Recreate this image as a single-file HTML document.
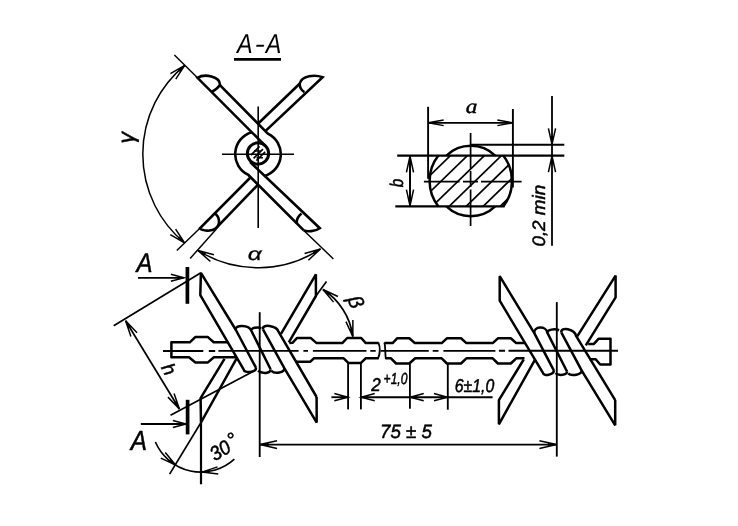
<!DOCTYPE html>
<html lang="en"><head><meta charset="utf-8"><title>A-A</title>
<style>html,body{margin:0;padding:0;background:#fff}svg{display:block;will-change:transform}text{text-rendering:geometricPrecision}</style></head>
<body>
<svg width="738" height="526" viewBox="0 0 738 526" fill="none" stroke="#000" stroke-linecap="butt" stroke-linejoin="round" font-family="'Liberation Sans', 'DejaVu Sans', sans-serif">
<rect width="738" height="526" fill="#fff" stroke="none"/>
<g>
<!-- section A-A -->
<line x1="258.2" y1="106.5" x2="258.2" y2="228" stroke-width="1.6"/>
<line x1="222" y1="154.2" x2="294" y2="154.2" stroke-width="1.6"/>
<circle cx="258" cy="153.5" r="10.65" stroke-width="3"/>
<line x1="250.9" y1="155.1" x2="259.6" y2="146.4" stroke-width="1.6"/>
<line x1="253.58" y1="158.42" x2="262.92" y2="149.08" stroke-width="1.6"/>
<line x1="256.4" y1="160.6" x2="265.1" y2="151.9" stroke-width="1.6"/>
<line x1="254" y1="151" x2="260.5" y2="151" stroke-width="1.45"/>
<line x1="256.5" y1="157.8" x2="263" y2="157.8" stroke-width="1.45"/>
<path d="M219.9 85.1 L267.84 133.63 A22.8 22.8 0 0 1 264.23 176.13" stroke-width="2.6"/>
<path d="M265.85 146.35 L197.5 77.8 C204.3 73.6 220.4 76.0 219.9 85.1 Q215.5 90.5 211.8 91.5" stroke-width="2.6" stroke-linejoin="miter" stroke-miterlimit="4"/>
<path d="M258 184.61 L215.6 228.6" stroke-width="2.6"/>
<path d="M250.65 177.25 L199.9 228.3 C202.1 231.1 211.8 231.7 215.6 228.6 C220.9 224.2 219.8 216.8 214.1 212.8" stroke-width="2.6" stroke-linejoin="miter" stroke-miterlimit="4"/>
<path d="M299.6 83.8 L258 123.79" stroke-width="2.6"/>
<path d="M265.35 131.15 L322.6 77.3 C315.2 74.6 301.8 75.2 299.6 83.8 Q299.8 89.5 304.4 92.1" stroke-width="2.6" stroke-linejoin="miter" stroke-miterlimit="4"/>
<path d="M251.77 132.27 A22.8 22.8 0 0 0 248.16 174.77 L303.8 230.4" stroke-width="2.6"/>
<path d="M301.5 213.4 Q295.6 218.5 297 223.7 M303.8 230.4 C307.2 231.9 315.2 231.5 319.8 228.2 L250.15 162.05" stroke-width="2.6" stroke-linejoin="miter" stroke-miterlimit="4"/>
<line x1="174.4" y1="55" x2="197.5" y2="77.8" stroke-width="1.45"/>
<line x1="199.9" y1="228.3" x2="176.8" y2="250.6" stroke-width="1.45"/>
<path d="M184.57 242.96 A115.2 115.2 0 0 1 184.72 65.31" stroke-width="1.5"/>
<path d="M175.74 79.15 L184.72 65.31 L170.43 73.56" stroke-width="1.5" stroke-linejoin="miter"/>
<path d="M184.72 65.31 L179.91 72.01 L177.78 69.77Z" fill="#000" stroke="none"/>
<path d="M170.29 234.69 L184.57 242.96 L175.61 229.11" stroke-width="1.5" stroke-linejoin="miter"/>
<path d="M184.57 242.96 L177.63 238.49 L179.77 236.26Z" fill="#000" stroke="none"/>
<text fill="#000" x="134.2" y="143.6" font-size="23" transform="rotate(-90 134.2 143.6)" stroke="#000" stroke-width="0.5" stroke-linejoin="round" font-style="italic">γ</text>
<line x1="216.4" y1="228.9" x2="190.2" y2="258.4" stroke-width="1.45"/>
<line x1="303.8" y1="230.4" x2="333.4" y2="258.9" stroke-width="1.45"/>
<path d="M320.48 248.96 A113.5 113.5 0 0 1 198.02 250.56" stroke-width="1.5"/>
<path d="M214 254.66 L198.02 250.56 L210.4 261.47" stroke-width="1.5" stroke-linejoin="miter"/>
<path d="M198.02 250.56 L205.91 252.98 L204.46 255.72Z" fill="#000" stroke="none"/>
<path d="M308.39 260.19 L320.48 248.96 L304.61 253.48" stroke-width="1.5" stroke-linejoin="miter"/>
<path d="M320.48 248.96 L314.18 254.28 L312.66 251.59Z" fill="#000" stroke="none"/>
<text fill="#000" x="247.8" y="259.8" font-size="18" textLength="14" lengthAdjust="spacingAndGlyphs" font-style="italic" stroke="#000" stroke-width="0.25">α</text>
<text fill="#000" y="53.4" font-size="27.3" font-style="italic" stroke="none"><tspan x="236.9" textLength="15.6" lengthAdjust="spacingAndGlyphs">A</tspan><tspan x="254.4" dy="-0.7" textLength="10.4" lengthAdjust="spacingAndGlyphs">-</tspan><tspan x="265.7" dy="0.7" textLength="15.6" lengthAdjust="spacingAndGlyphs">A</tspan></text>
<line x1="234" y1="59.3" x2="281" y2="59.3" stroke-width="2.8"/>
<!-- cross-section -->
<clipPath id="cs"><path d="M438.36 155.6 A41.2 41.2 0 0 0 438.36 206.4 L503.24 206.4 A41.2 41.2 0 0 0 503.24 155.6Z"/></clipPath>
<g clip-path="url(#cs)">
<line x1="367.2" y1="236.4" x2="470.2" y2="136.4" stroke-width="1.7"/>
<line x1="384.2" y1="236.4" x2="487.2" y2="136.4" stroke-width="1.7"/>
<line x1="401.2" y1="236.4" x2="504.2" y2="136.4" stroke-width="1.7"/>
<line x1="418.2" y1="236.4" x2="521.2" y2="136.4" stroke-width="1.7"/>
<line x1="435.2" y1="236.4" x2="538.2" y2="136.4" stroke-width="1.7"/>
<line x1="452.2" y1="236.4" x2="555.2" y2="136.4" stroke-width="1.7"/>
<line x1="469.2" y1="236.4" x2="572.2" y2="136.4" stroke-width="1.7"/>
</g>
<path d="M438.36 155.6 A41.2 41.2 0 0 0 438.36 206.4" stroke-width="2.5"/>
<path d="M503.24 155.6 A41.2 41.2 0 0 1 503.24 206.4" stroke-width="2.5"/>
<path d="M446.43 155.6 A35.2 35.2 0 0 1 495.17 155.6" stroke-width="2.5"/>
<path d="M446.43 206.4 A35.2 35.2 0 0 0 495.17 206.4" stroke-width="2.5"/>
<line x1="397.2" y1="155.6" x2="564.3" y2="155.6" stroke-width="2.3"/>
<line x1="395.3" y1="206.4" x2="504.5" y2="206.4" stroke-width="2.3"/>
<line x1="470.2" y1="144.8" x2="564.3" y2="144.8" stroke-width="1.9"/>
<path d="M423.9 181.6H459.5M463 181.6H478M481 181.6H521.6" stroke-width="1.7"/>
<path d="M470.6 132.9V168.5M470.6 171V187M470.6 189.5V226" stroke-width="1.7"/>
<line x1="428.1" y1="106.8" x2="428.1" y2="178.8" stroke-width="1.9"/>
<line x1="512.9" y1="109" x2="512.9" y2="187.5" stroke-width="1.9"/>
<line x1="428.1" y1="122.8" x2="512.9" y2="122.8" stroke-width="1.7"/>
<path d="M443.64 119.98 L428.4 122.8 L443.64 125.62" stroke-width="1.5" stroke-linejoin="miter"/>
<path d="M428.4 122.8 L436.07 121.67 L436.07 123.93Z" fill="#000" stroke="none"/>
<path d="M497.36 125.62 L512.6 122.8 L497.36 119.98" stroke-width="1.5" stroke-linejoin="miter"/>
<path d="M512.6 122.8 L504.93 123.93 L504.93 121.67Z" fill="#000" stroke="none"/>
<text fill="#000" x="465.8" y="112.8" font-size="20" textLength="11.6" lengthAdjust="spacingAndGlyphs" font-style="italic" font-family="'Liberation Serif', serif" stroke="#000" stroke-width="0.45">a</text>
<line x1="410" y1="155.6" x2="410" y2="206.4" stroke-width="2"/>
<path d="M413.57 172.31 L410 156.2 L406.43 172.31" stroke-width="1.5" stroke-linejoin="miter"/>
<path d="M410 156.2 L411.43 164.32 L408.57 164.32Z" fill="#000" stroke="none"/>
<path d="M406.43 189.69 L410 205.8 L413.57 189.69" stroke-width="1.5" stroke-linejoin="miter"/>
<path d="M410 205.8 L408.57 197.68 L411.43 197.68Z" fill="#000" stroke="none"/>
<text fill="#000" x="402.8" y="187.2" font-size="18.5" transform="rotate(-90 402.8 187.2)" textLength="8.4" lengthAdjust="spacingAndGlyphs" stroke="#000" stroke-width="0.5" stroke-linejoin="round" font-style="italic">b</text>
<line x1="552" y1="96" x2="552" y2="245.7" stroke-width="1.8"/>
<path d="M548.43 128.29 L552 144.4 L555.57 128.29" stroke-width="1.5" stroke-linejoin="miter"/>
<path d="M552 144.4 L550.57 136.28 L553.43 136.28Z" fill="#000" stroke="none"/>
<path d="M555.57 172.11 L552 156 L548.43 172.11" stroke-width="1.5" stroke-linejoin="miter"/>
<path d="M552 156 L553.43 164.12 L550.57 164.12Z" fill="#000" stroke="none"/>
<text fill="#000" x="544.8" y="246.6" font-size="18" transform="rotate(-90 544.8 246.6)" textLength="61.8" lengthAdjust="spacingAndGlyphs" stroke="#000" stroke-width="0.5" stroke-linejoin="round" font-style="italic">0,2 min</text>
<!-- main view -->
<path d="M228.2 342.3 L213.7 342.3 L207.9 337.1 L195.2 337.1 L189.8 342.3 L171.4 342.3 L171.4 357.3 L189 357.3 L195.4 362.4 L207.9 362.4 L213.9 357.3 L236 357.3" stroke-width="2.5"/>
<path d="M289.3 343.1 L292.5 342.8 L297.1 337.9 L310.6 337.9 L316.6 343.1 L342.3 343.1 L347.2 338 L361.2 338 L365.8 343.1 L378.6 343.1" stroke-width="2.5"/>
<path d="M295.5 361.7 L310.4 361.7 L313.8 358.3 L343.7 358.3 L348.3 362.9 L361 362.9 L365.6 358.3 L378.6 358.3" stroke-width="2.5"/>
<path d="M378.4 342.5 C380.2 347 380 354 377.9 359" stroke-width="1.8"/>
<path d="M384.3 342.5 C385.8 347 384.8 353 385.9 359" stroke-width="1.8"/>
<path d="M384.5 343.1 L392.6 343.1 L397.1 338.3 L409.3 338.3 L414.9 343.1 L441.7 343.1 L446.9 338.3 L461 338.3 L466.4 343.1 L492.7 343.1 L497.9 338.3 L510.8 338.3 L516.2 343.1 L525.3 343.1" stroke-width="2.5"/>
<path d="M385.6 358.3 L391 358.3 L396.1 363.5 L409.3 363.5 L415.2 358.3 L441.7 358.3 L446.9 363.5 L461 363.5 L466.4 358.3 L492.7 358.3 L497.9 363.5 L510.8 363.5 L516.2 358.3 L524.5 358.3" stroke-width="2.5"/>
<path d="M588.2 343.9 L593.9 343.9 L598.5 338.8 L610.5 338.8 L610.5 364.5 L600.2 364.5 L595.7 359.3 L589.6 359.3" stroke-width="2.5"/>
<path d="M163 351H203.3M208.8 351H215.2M218.4 350.9H298.6M303.4 350.8H308M312.9 350.8H366.5M370.3 350.8H375.7M380.9 350.8H428.8M432.7 350.8H438.5M443.4 350.8H495.4M498.9 350.7H505M508.5 350.7H618" stroke-width="1.85"/>
<path d="M281 333.8 L315.9 274.3 L315.9 296 L288.8 342.4" stroke-width="2.5" stroke-linejoin="bevel"/>
<path d="M224.5 358.8 L200.6 398.2 L201 422.5 L236.5 358.6" stroke-width="2.5" stroke-linejoin="bevel"/>
<path d="M255.9 367.6 L235.9 330 L200.9 272.9 L200.3 295.1 L243.6 369.3 C244.2 373.9 256.5 372.2 255.9 367.6" stroke-width="2.5" stroke-linejoin="bevel"/>
<path d="M235.9 330 C234 324.2 249.3 324.7 251.2 330.5 L270.6 369.3" stroke-width="2.5"/>
<path d="M258.08 370.77 C261.52 373.94 271.1 373.72 270.6 369.3" stroke-width="2.5"/>
<path d="M251.4 330.6 C250.44 327.93 257.67 326.76 261.22 328.1" stroke-width="2.5"/>
<path d="M271.36 370.79 C274.61 374.13 284.82 373.02 284.3 368.2" stroke-width="2.5"/>
<path d="M263 329.4 L284.3 368.2 L316.7 422.6 L316.6 397" stroke-width="2.5" stroke-linejoin="bevel"/>
<path d="M263 329.4 C261.4 323.2 276.9 325.5 278.5 331.7 L316.6 397" stroke-width="2.5"/>
<path d="M577.2 336.3 L615.6 275.6 L615.6 297.3 L585.8 345.4" stroke-width="2.5" stroke-linejoin="bevel"/>
<path d="M523.7 359.5 L498.9 400.1 L498.9 424.3 L534.9 359.8" stroke-width="2.5" stroke-linejoin="bevel"/>
<path d="M553.8 370.3 L534.3 333.2 L499.7 276.1 L499.7 300.7 L542.8 372.7 C543.4 376.97 554.4 374.57 553.8 370.3" stroke-width="2.5" stroke-linejoin="bevel"/>
<path d="M534.3 333.2 C533.3 326.13 546.3 325.53 547.3 332.6 L567 371.5" stroke-width="2.5"/>
<path d="M555.39 373.17 C558.48 375.92 567.51 375.41 567 371.5" stroke-width="2.5"/>
<path d="M547.4 332.8 C546.78 329.47 555.03 328.5 559.08 330.25" stroke-width="2.5"/>
<path d="M568.18 373.57 C571.54 376.44 582.12 374.71 581.6 370.3" stroke-width="2.5"/>
<path d="M561.4 332.6 L581.6 370.3 L615.2 425.3 L615.2 400.1" stroke-width="2.5" stroke-linejoin="bevel"/>
<path d="M561.4 332.6 C560.2 325.8 575 329.4 576.2 336.2 L615.2 400.1" stroke-width="2.5"/>
<line x1="259.7" y1="312.2" x2="259.7" y2="457" stroke-width="1.85"/>
<line x1="556.8" y1="302.1" x2="556.8" y2="456.6" stroke-width="1.85"/>
<line x1="259.7" y1="444.6" x2="556.8" y2="444.6" stroke-width="1.85"/>
<path d="M277.05 440.66 L260 444.6 L277.05 448.54" stroke-width="1.5" stroke-linejoin="miter"/>
<path d="M260 444.6 L268.61 443.02 L268.61 446.18Z" fill="#000" stroke="none"/>
<path d="M539.45 448.54 L556.5 444.6 L539.45 440.66" stroke-width="1.5" stroke-linejoin="miter"/>
<path d="M556.5 444.6 L547.89 446.18 L547.89 443.02Z" fill="#000" stroke="none"/>
<text fill="#000" x="380" y="437.6" font-size="19.2" textLength="52" lengthAdjust="spacingAndGlyphs" stroke="#000" stroke-width="0.5" stroke-linejoin="round" font-style="italic">75 ± 5</text>
<line x1="348.1" y1="363" x2="348.1" y2="409.4" stroke-width="1.85"/>
<line x1="360.9" y1="363" x2="360.9" y2="409.4" stroke-width="1.85"/>
<line x1="331.4" y1="397.2" x2="348.1" y2="397.2" stroke-width="1.85"/>
<line x1="360.9" y1="397.2" x2="492.6" y2="397.2" stroke-width="1.85"/>
<path d="M334.38 400.82 L347.9 397.2 L334.38 393.58" stroke-width="1.5" stroke-linejoin="miter"/>
<path d="M347.9 397.2 L341.05 398.66 L341.05 395.74Z" fill="#000" stroke="none"/>
<path d="M374.72 393.58 L361.2 397.2 L374.72 400.82" stroke-width="1.5" stroke-linejoin="miter"/>
<path d="M361.2 397.2 L368.05 395.74 L368.05 398.66Z" fill="#000" stroke="none"/>
<text fill="#000" x="371.2" y="391.4" font-size="18.5" textLength="9.5" lengthAdjust="spacingAndGlyphs" stroke="#000" stroke-width="0.5" stroke-linejoin="round" font-style="italic">2</text>
<text fill="#000" x="383.6" y="383.6" font-size="16" textLength="23.8" lengthAdjust="spacingAndGlyphs" stroke="#000" stroke-width="0.5" stroke-linejoin="round" font-style="italic">+1,0</text>
<line x1="409.9" y1="364" x2="409.9" y2="408.7" stroke-width="1.85"/>
<line x1="447.8" y1="364" x2="447.8" y2="409.7" stroke-width="1.85"/>
<path d="M423.72 393.58 L410.2 397.2 L423.72 400.82" stroke-width="1.5" stroke-linejoin="miter"/>
<path d="M410.2 397.2 L417.05 395.74 L417.05 398.66Z" fill="#000" stroke="none"/>
<path d="M433.98 400.82 L447.5 397.2 L433.98 393.58" stroke-width="1.5" stroke-linejoin="miter"/>
<path d="M447.5 397.2 L440.65 398.66 L440.65 395.74Z" fill="#000" stroke="none"/>
<text fill="#000" x="454.8" y="392.3" font-size="18.5" textLength="39.5" lengthAdjust="spacingAndGlyphs" stroke="#000" stroke-width="0.5" stroke-linejoin="round" font-style="italic">6±1,0</text>
<line x1="187.4" y1="267" x2="187.4" y2="303.8" stroke-width="3.7"/>
<line x1="187.6" y1="399.8" x2="187.6" y2="434.4" stroke-width="3.7"/>
<line x1="138" y1="277.8" x2="183.6" y2="277.8" stroke-width="1.85"/>
<path d="M170.86 281.29 L183.9 277.8 L170.86 274.31" stroke-width="1.5" stroke-linejoin="miter"/>
<path d="M183.9 277.8 L177.3 279.2 L177.3 276.4Z" fill="#000" stroke="none"/>
<line x1="140.8" y1="424" x2="185.6" y2="424" stroke-width="1.85"/>
<path d="M172.86 427.49 L185.9 424 L172.86 420.51" stroke-width="1.5" stroke-linejoin="miter"/>
<path d="M185.9 424 L179.3 425.4 L179.3 422.6Z" fill="#000" stroke="none"/>
<text fill="#000" x="136.4" y="272.2" font-size="27" textLength="16" lengthAdjust="spacingAndGlyphs" stroke="#000" stroke-width="0.5" stroke-linejoin="round" font-style="italic">A</text>
<text fill="#000" x="130.8" y="450.4" font-size="27.5" textLength="16.2" lengthAdjust="spacingAndGlyphs" stroke="#000" stroke-width="0.5" stroke-linejoin="round" font-style="italic">A</text>
<line x1="113.7" y1="325.8" x2="200.9" y2="272.8" stroke-width="1.7"/>
<line x1="170.5" y1="415.3" x2="254.4" y2="370.8" stroke-width="1.7"/>
<line x1="125.6" y1="320.8" x2="179.4" y2="409" stroke-width="1.7"/>
<path d="M137.04 332.69 L125.6 320.8 L130.94 336.41" stroke-width="1.5" stroke-linejoin="miter"/>
<path d="M125.6 320.8 L131.05 326.99 L128.61 328.48Z" fill="#000" stroke="none"/>
<path d="M167.96 397.11 L179.4 409 L174.06 393.39" stroke-width="1.5" stroke-linejoin="miter"/>
<path d="M179.4 409 L173.95 402.81 L176.39 401.32Z" fill="#000" stroke="none"/>
<text fill="#000" x="160.8" y="367.6" font-size="19" transform="rotate(62.62 160.8 367.6)" stroke="#000" stroke-width="0.5" stroke-linejoin="round" font-style="italic">h</text>
<line x1="201" y1="422.5" x2="201" y2="484.3" stroke-width="2.2"/>
<line x1="201" y1="422.5" x2="169.6" y2="474.1" stroke-width="1.7"/>
<path d="M234.38 459.19 A49.6 49.6 0 0 1 155.41 442.04" stroke-width="1.7"/>
<path d="M217.51 466.86 L201.87 472.09 L218.26 473.96" stroke-width="1.5" stroke-linejoin="miter"/>
<path d="M201.87 472.09 L209.8 469.82 L210.1 472.67Z" fill="#000" stroke="none"/>
<path d="M160.86 458.09 L175.75 465.19 L165.26 452.46" stroke-width="1.5" stroke-linejoin="miter"/>
<path d="M175.75 465.19 L168.47 461.32 L170.23 459.06Z" fill="#000" stroke="none"/>
<text fill="#000" x="215" y="461.6" font-size="20" font-style="italic" transform="rotate(-32 215 461.6)" stroke="#000" stroke-width="0.5" stroke-linejoin="round"><tspan textLength="20.5" lengthAdjust="spacingAndGlyphs">30</tspan><tspan dx="1.7" dy="-2.65">°</tspan></text>
<line x1="315.9" y1="296" x2="326.5" y2="281.4" stroke-width="1.7"/>
<path d="M322.95 289.5 A65.8 65.8 0 0 1 352.85 336.53" stroke-width="1.7"/>
<path d="M337.91 296.48 L322.95 289.5 L333.56 302.14" stroke-width="1.5" stroke-linejoin="miter"/>
<path d="M322.95 289.5 L330.27 293.31 L328.53 295.59Z" fill="#000" stroke="none"/>
<path d="M345.9 321.56 L352.85 336.53 L352.88 320.03" stroke-width="1.5" stroke-linejoin="miter"/>
<path d="M352.85 336.53 L349.71 328.9 L352.51 328.28Z" fill="#000" stroke="none"/>
<text fill="#000" x="347.3" y="299" font-size="20.5" transform="rotate(68 347.3 299)" stroke="#000" stroke-width="0.5" stroke-linejoin="round" font-style="italic">β</text>
</g>
</svg>
</body></html>
